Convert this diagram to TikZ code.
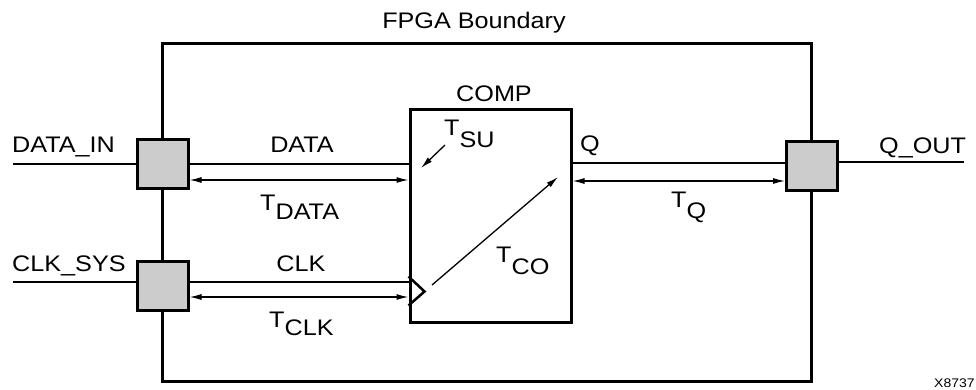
\documentclass[tikz,border=0pt]{standalone}
\usepackage{fontspec}
\setmainfont{Liberation Sans}[FakeStretch=1.12]
\usetikzlibrary{arrows.meta,calc}
\newcommand\Tsub[2]{T\raisebox{-#1pt}{#2}}
\begin{document}
\begin{tikzpicture}[x=1pt,y=-1pt,
  lbl/.style={inner sep=0, font=\fontsize{22.5}{26}\selectfont},
  small/.style={inner sep=0, font=\fontsize{12.5}{14}\selectfont},
  boundary/.style={draw, line width=3pt, inner sep=0, minimum width=648.5pt, minimum height=338pt},
  pad/.style={draw, line width=3pt, fill=black!20, inner sep=0, minimum width=51pt, minimum height=49pt},
  comp/.style={draw, line width=3pt, inner sep=0, minimum width=161pt, minimum height=213pt},
  wire/.style={line width=1.5pt},
  timing/.style={line width=1.3pt, {Latex[length=12pt,width=6pt]}-{Latex[length=12pt,width=6pt]}},
  oneway/.style={line width=1.3pt, -{Latex[length=12pt,width=6pt]}}]
\useasboundingbox (0,0) rectangle (976,389);
% boxes
\node[boundary] (fpga) at (486.75,212) {};
\node[comp] (cmp) at (490.5,215.5) {};
\node[pad] (dpad) at (162.5,164) {};
\node[pad] (cpad) at (162.5,286) {};
\node[pad] (qpad) at (812,166) {};
% level coordinates
\coordinate (din) at (13,164);
\coordinate (ta) at (0,180);
\coordinate (csys) at (13,282);
\coordinate (tc) at (0,297);
\coordinate (ql) at (0,163);
\coordinate (tq) at (0,181);
\coordinate (qo) at (964,162);
\coordinate (su1) at (445,145);
\coordinate (su2) at (421,168);
\coordinate (co1) at (432,285);
\coordinate (co2) at (558,177);
% wires
\draw[wire] (din) -- (dpad.west |- din);
\draw[wire] (dpad.east |- din) -- (cmp.west |- din);
\draw[timing] (dpad.east |- ta) -- (cmp.west |- ta);
\draw[wire] (csys) -- (cpad.west |- csys);
\draw[wire] (cpad.east |- csys) -- (cmp.west |- csys);
\draw[timing] (cpad.east |- tc) -- (cmp.west |- tc);
\draw[wire] (cmp.east |- ql) -- (qpad.west |- ql);
\draw[timing] (cmp.east |- tq) -- (qpad.west |- tq);
\draw[wire] (qpad.east |- qo) -- (qo);
% clock triangle
\draw[line width=2.5pt, line join=miter] ($(cmp.south west)+(0,-47)$) -- ($(cmp.south west)+(16,-32)$) -- ($(cmp.south west)+(0,-18)$);
% internal arrows
\draw[oneway] (su1) -- (su2);
\draw[oneway] (co1) -- (co2);
% labels
\node[lbl, anchor=base] (lfpga) at (474,28) {FPGA Boundary};
\node[lbl, anchor=base] (lcomp) at (494,101) {COMP};
\node[lbl, anchor=base west] (ldin) at (12,152) {DATA\_IN};
\node[lbl, anchor=base west] (lcsys) at (12,271) {CLK\_SYS};
\node[lbl, anchor=base] (ldata) at (302,152) {DATA};
\node[lbl, anchor=base] (lclk) at (301,271) {CLK};
\node[lbl, anchor=base west] (ltdata) at (260,210) {\Tsub{9}{DATA}};
\node[lbl, anchor=base west] (ltclk) at (269,327) {\Tsub{8}{CLK}};
\node[lbl, anchor=base west] (ltsu) at (444,135) {\Tsub{12}{SU}};
\node[lbl, anchor=base west] (ltco) at (496,262) {\Tsub{12}{CO}};
\node[lbl, anchor=base west] (ltq) at (671,207) {\Tsub{11}{Q}};
\node[lbl, anchor=base] (lq) at (590,151) {Q};
\node[lbl, anchor=base west] (lqout) at (879,153) {Q\_OUT};
\node[small, anchor=base west] (lx) at (934,387) {X8737};
\end{tikzpicture}
\end{document}
